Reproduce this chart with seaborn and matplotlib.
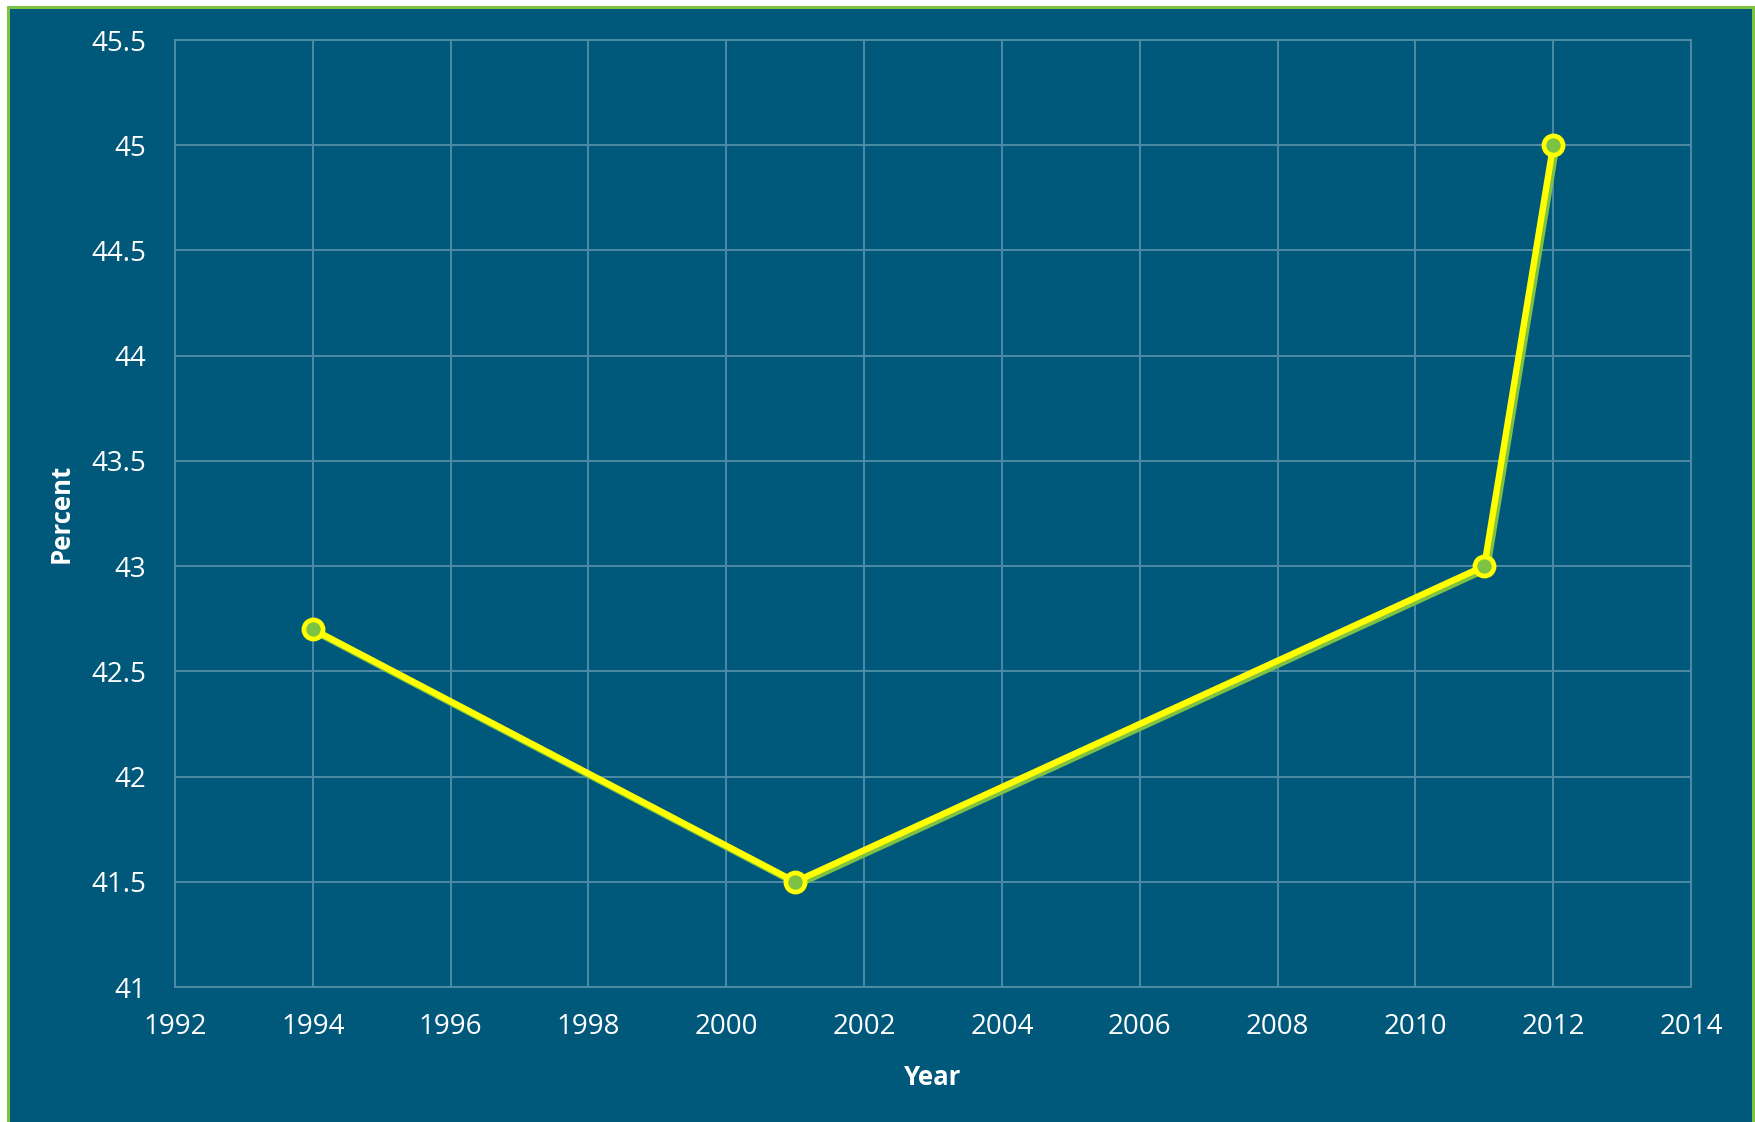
import matplotlib
matplotlib.use("Agg")
import matplotlib.pyplot as plt
import matplotlib.patheffects as pe
from matplotlib.patches import Rectangle
import seaborn as sns
import pandas as pd

# Survey share by year
years = [1994, 2001, 2011, 2012]
percent = [42.7, 41.5, 43.0, 45.0]

x_ticks = [1992, 1994, 1996, 1998, 2000, 2002, 2004, 2006, 2008, 2010, 2012, 2014]
y_ticks = [41, 41.5, 42, 42.5, 43, 43.5, 44, 44.5, 45, 45.5]
y_tick_labels = ["41", "41.5", "42", "42.5", "43", "43.5", "44", "44.5", "45", "45.5"]

BG = "#00587A"
GRID = "#4F8BA5"
YELLOW = "#FFFF00"
GREEN = "#7DC242"

sns.set_theme(style="white")
plt.rcParams["font.family"] = ["Open Sans", "DejaVu Sans"]

df = pd.DataFrame({"Year": years, "Percent": percent})

W, H = 1756, 1122
fig = plt.figure(figsize=(W / 100, H / 100), dpi=100)
fig.patch.set_facecolor("white")

# Panel background with green frame, kept behind the axes
fig.patches.append(Rectangle((8 / W, -0.01), (1753 - 8) / W, 1.01 - 7 / H,
                             transform=fig.transFigure, facecolor=BG,
                             edgecolor=GREEN, linewidth=2.2, zorder=-10))

ax = fig.add_axes([175 / W, 1 - 987 / H, (1691 - 175) / W, (987 - 40) / H])
ax.set_zorder(5)
ax.set_facecolor(BG)

sns.lineplot(data=df, x="Year", y="Percent", ax=ax, color=YELLOW,
             linewidth=4.6, zorder=3)
line = ax.lines[0]
line.set_solid_capstyle("round")
line.set_path_effects([pe.SimpleLineShadow(offset=(2.0, -2.0), shadow_color=GREEN, alpha=1.0),
                       pe.Normal()])

sns.scatterplot(data=df, x="Year", y="Percent", ax=ax, s=190, color=GREEN,
                edgecolor=YELLOW, linewidth=3.4, zorder=4)

ax.set_xlim(1992, 2014)
ax.set_ylim(41, 45.5)
ax.set_xticks(x_ticks)
ax.set_xticklabels([str(t) for t in x_ticks])
ax.set_yticks(y_ticks)
ax.set_yticklabels(y_tick_labels)

ax.grid(True, color=GRID, linewidth=1.4)
ax.set_axisbelow(True)
for s in ax.spines.values():
    s.set_visible(True)
    s.set_color(GRID)
    s.set_linewidth(1.4)

ax.tick_params(axis="both", colors="white", labelsize=20, length=0)
ax.tick_params(axis="y", pad=21)
ax.tick_params(axis="x", pad=19)

ax.set_xlabel("Year", color="white", fontsize=18.5, fontweight="bold", labelpad=16)
ax.set_ylabel("Percent", color="white", fontsize=18.5, fontweight="bold", labelpad=12)

fig.savefig("out.png", dpi=100, facecolor=fig.get_facecolor())
